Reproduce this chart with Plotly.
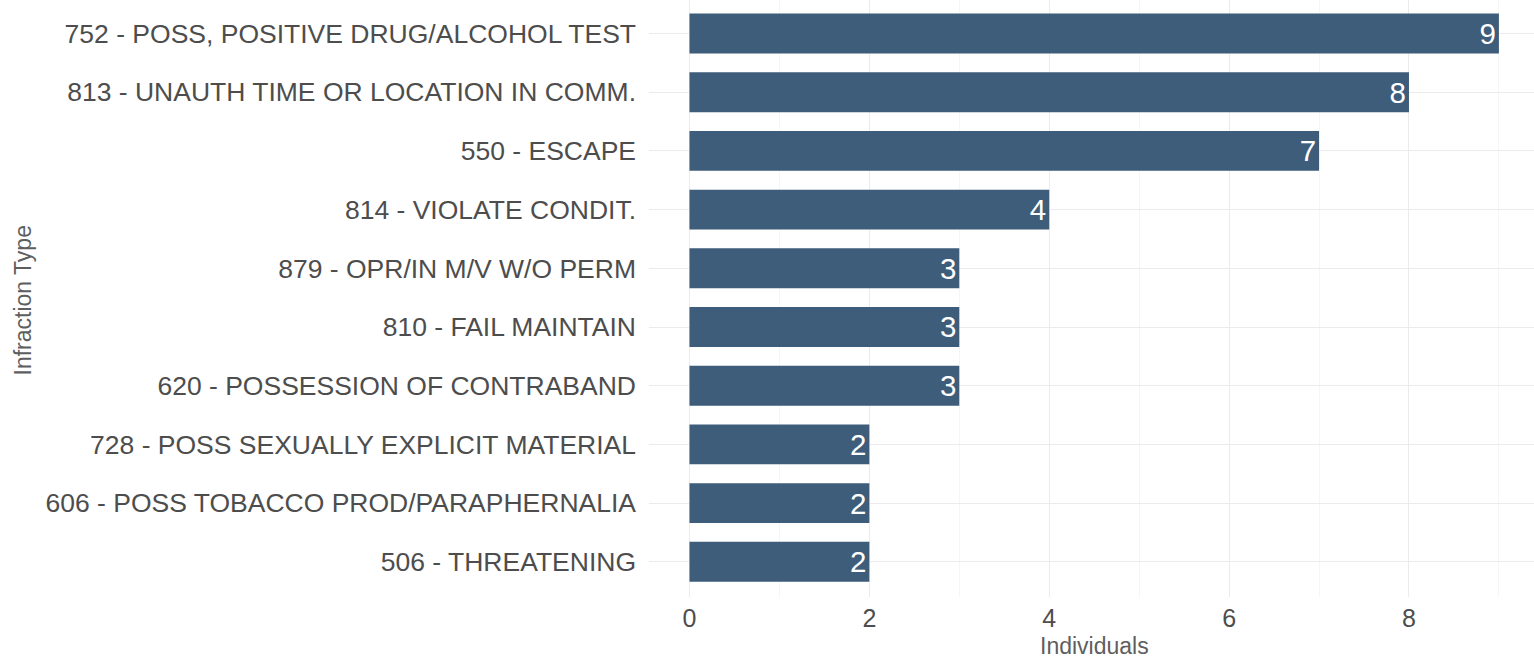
import plotly.graph_objects as go

categories = [
    "752 - POSS, POSITIVE DRUG/ALCOHOL TEST",
    "813 - UNAUTH TIME OR LOCATION IN COMM.",
    "550 - ESCAPE",
    "814 - VIOLATE CONDIT.",
    "879 - OPR/IN M/V W/O PERM",
    "810 - FAIL MAINTAIN",
    "620 - POSSESSION OF CONTRABAND",
    "728 - POSS SEXUALLY EXPLICIT MATERIAL",
    "606 - POSS TOBACCO PROD/PARAPHERNALIA",
    "506 - THREATENING",
]
individuals = [9, 8, 7, 4, 3, 3, 3, 2, 2, 2]
x_ticks = [0, 2, 4, 6, 8]
x_title = "Individuals"
y_title = "Infraction Type"

FONT = "Liberation Sans, Arial, Helvetica, sans-serif"
BAR = "#3d5d7b"
TITLE_FONT = dict(family=FONT, size=23, color="#5e5e5e")

fig = go.Figure(
    go.Bar(
        x=individuals,
        y=categories,
        orientation="h",
        width=0.68,
        marker=dict(color=BAR, line=dict(width=0)),
        text=individuals,
        texttemplate="%{x}",
        textposition="inside",
        insidetextanchor="end",
        constraintext="none",
        textfont=dict(family=FONT, size=29.5, color="white"),
        hoverinfo="skip",
    )
)

fig.update_layout(
    width=1534,
    height=660,
    margin=dict(l=649, r=0, t=0, b=63, pad=0, autoexpand=False),
    paper_bgcolor="white",
    plot_bgcolor="white",
    showlegend=False,
    font=dict(family=FONT, color="#4d4d4d"),
    xaxis=dict(
        range=[-0.45, 9.39],
        automargin=False,
        tickmode="array",
        tickvals=x_ticks,
        ticktext=[str(v) for v in x_ticks],
        ticks="",
        showline=False,
        zeroline=False,
        showgrid=True,
        gridcolor="#ebebeb",
        gridwidth=1.2,
        minor=dict(dtick=1, tick0=0, showgrid=True, gridcolor="#f5f5f5", gridwidth=0.8),
        tickfont=dict(family=FONT, size=25, color="#4d4d4d"),
        ticklabelstandoff=4,
    ),
    yaxis=dict(
        type="category",
        automargin=False,
        categoryorder="array",
        categoryarray=categories,
        range=[9.6, -0.571],
        ticks="",
        showline=False,
        zeroline=False,
        showgrid=True,
        gridcolor="#ebebeb",
        gridwidth=1.2,
        tickfont=dict(family=FONT, size=26.5, color="#4d4d4d"),
        ticklabelstandoff=12,
    ),
    annotations=[
        dict(
            text=x_title, xref="paper", yref="paper", x=0.5, y=0,
            xanchor="center", yanchor="middle", xshift=3, yshift=-49,
            showarrow=False, font=TITLE_FONT, borderpad=0,
        ),
        dict(
            text=y_title, xref="paper", yref="paper", x=0, y=0.5,
            xanchor="center", yanchor="middle", xshift=-627, yshift=-2,
            textangle=-90, showarrow=False, font=TITLE_FONT,
        ),
    ],
)

fig.write_html(
    "out.html",
    config={"displayModeBar": False},
    post_script="document.body.style.margin='0';document.body.style.overflow='hidden';",
)
